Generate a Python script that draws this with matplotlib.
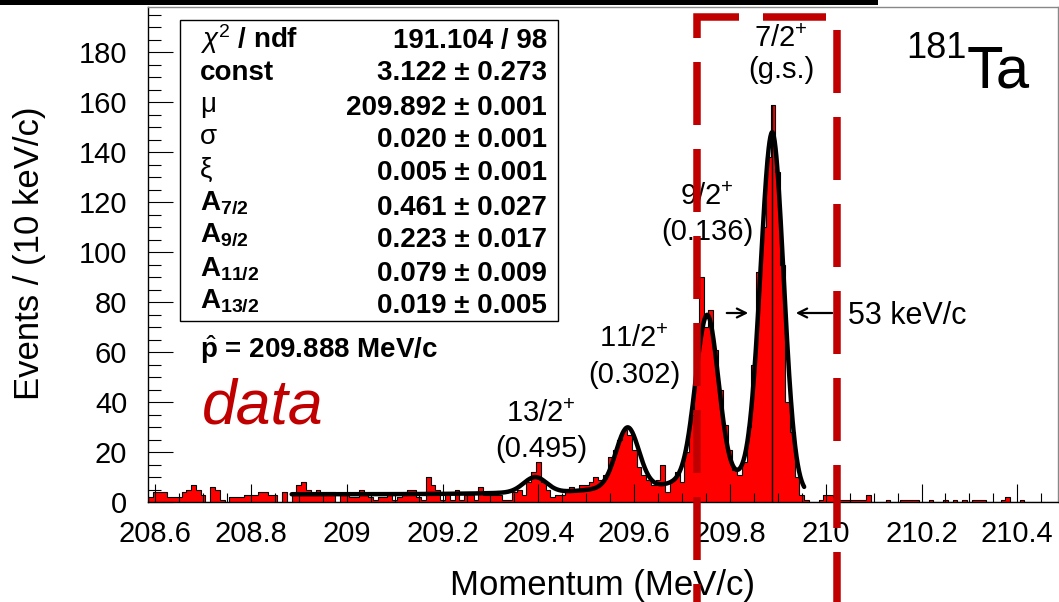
import numpy as np
import matplotlib
matplotlib.use("Agg")
import matplotlib.pyplot as plt
import matplotlib.transforms as mtransforms
from matplotlib.lines import Line2D
from matplotlib.patches import Rectangle
from matplotlib.ticker import MultipleLocator, FuncFormatter

plt.rcParams['font.family'] = ['Liberation Sans', 'DejaVu Sans']
plt.rcParams['mathtext.fontset'] = 'custom'
plt.rcParams['mathtext.rm'] = 'Liberation Sans'
plt.rcParams['mathtext.it'] = 'Liberation Sans:italic'
plt.rcParams['mathtext.bf'] = 'Liberation Sans:bold'
plt.rcParams['lines.scale_dashes'] = False

# histogram, 10 keV/c bins starting at 208.585 MeV/c
bin_lo = 208.585
bin_width = 0.01
counts = [
    2, 4, 4, 4, 2, 2, 2, 4, 5, 7,
    5, 3, 0, 6, 5, 1, 0, 2, 2, 2,
    3, 3, 3, 4, 4, 3, 3, 0, 4, 0,
    4, 7, 8, 5, 4, 5, 4, 4, 4, 0,
    3, 3, 2, 2, 5, 3, 2, 1, 2, 2,
    3, 1, 2, 3, 5, 5, 2, 1, 10, 7,
    5, 1, 3, 1, 5, 1, 3, 3, 1, 6,
    3, 3, 3, 3, 1, 1, 4, 5, 3, 8,
    12, 16, 8, 5, 2, 3, 3, 5, 6, 5,
    7, 7, 8, 10, 9, 11, 18, 21, 25, 29,
    27, 21, 14, 11, 9, 7, 9, 15, 4, 9,
    12, 8, 20, 35, 52, 90, 70, 77, 61, 45,
    31, 21, 13, 11, 16, 30, 55, 92, 110, 138,
    159, 132, 95, 40, 28, 10, 3, 1, 0, 0,
    1, 3, 3, 2, 1, 1, 1, 1, 1, 1,
    3, 0, 0, 0, 1, 0, 0, 1, 1, 1,
    1, 0, 0, 1, 0, 0, 1, 0, 1, 0,
    1, 0, 1, 1, 1, 0, 0, 0, 1, 2,
    0, 0, 1, 0, 0, 0, 0, 0, 0, 0,
]

# fit model (peak heights above background)
fit_const = 3.1
peak_pos = [209.888, 209.752, 209.586, 209.393]
peak_height = [145, 68.5, 25, 6.3]
peak_sigma = 0.024
tail_frac = 0.09
tail_len = 0.1
fit_range = (208.885, 209.955)
p_hat = 209.888

# labels of the states
spin_labels = ['$\\mathrm{7/2}^{+}$', '$\\mathrm{9/2}^{+}$',
               '$\\mathrm{11/2}^{+}$', '$\\mathrm{13/2}^{+}$']
energy_labels = ['(g.s.)', '(0.136)', '(0.302)', '(0.495)']

# fit result box
stat_names = ['$\\chi^2$ / ndf', 'const', '\u03bc', '\u03c3', '\u03be',
              '$\\mathbf{A}_{\\mathbf{7/2}}$', '$\\mathbf{A}_{\\mathbf{9/2}}$',
              '$\\mathbf{A}_{\\mathbf{11/2}}$', '$\\mathbf{A}_{\\mathbf{13/2}}$']
stat_values = ['191.104 / 98', '3.122 \u00b1 0.273', '209.892 \u00b1 0.001',
               '0.020 \u00b1 0.001', '0.005 \u00b1 0.001', '0.461 \u00b1 0.027',
               '0.223 \u00b1 0.017', '0.079 \u00b1 0.009', '0.019 \u00b1 0.005']

# selection window drawn as dashed box
window = (209.7305, 210.023)

W, H = 1059, 602
RED = '#c00000'


def fx(px):
    return px / W


def fy(py):
    return 1 - py / H


def peak_shape(x, mu):
    g = np.exp(-(x - mu) ** 2 / (2 * peak_sigma ** 2))
    tail = np.exp(np.minimum(x - mu, 0) / tail_len)
    return np.where(x < mu, (1 - tail_frac) * g + tail_frac * tail, g)


fig = plt.figure(figsize=(W / 100, H / 100), dpi=100)
ax = fig.add_axes([fx(148), fy(502), 910 / W, 495 / H])

edges = bin_lo + bin_width * np.arange(len(counts) + 1)
ax.stairs(counts, edges, fill=True, color='#ff0000', zorder=1)
ax.stairs(counts, edges, color='black', lw=0.8, zorder=1.2)
ax.vlines(p_hat, 0, max(counts), color='black', lw=1.0, zorder=1.3)

xf = np.linspace(fit_range[0], fit_range[1], 1200)
yf = fit_const + sum(h * peak_shape(xf, m) for m, h in zip(peak_pos, peak_height))
ax.plot(xf, yf, color='black', lw=3.2, zorder=3, solid_capstyle='round')

ax.set_xlim(edges[0], edges[-1])
ax.set_ylim(0, 198.2)
ax.xaxis.set_major_locator(MultipleLocator(0.2))
ax.xaxis.set_minor_locator(MultipleLocator(0.05))
ax.yaxis.set_major_locator(MultipleLocator(20))
ax.yaxis.set_minor_locator(MultipleLocator(5))
ax.xaxis.set_major_formatter(FuncFormatter(lambda v, p: f'{v:g}'))
ax.tick_params(axis='both', which='both', direction='in', top=False, right=False,
               width=0.8, labelsize=21)
ax.tick_params(axis='x', which='major', length=13, pad=13)
ax.tick_params(axis='x', which='minor', length=6.5)
ax.tick_params(axis='y', which='major', length=18, pad=15)
ax.tick_params(axis='y', which='minor', length=9.4)
for s in ['top', 'right']:
    ax.spines[s].set_color('#888888')
    ax.spines[s].set_linewidth(1.0)
for s in ['bottom', 'left']:
    ax.spines[s].set_linewidth(1.0)

ax.set_xlabel('Momentum (MeV/c)', fontsize=25, va='baseline')
ax.xaxis.set_label_coords(fx(603), fy(595), transform=fig.transFigure)
ax.set_ylabel('Events / (10 keV/c)', fontsize=25, va='center')
ax.yaxis.set_label_coords(fx(30), fy(253), transform=fig.transFigure)

# state labels
label_x = [781, 707, 634, 541]
spin_base = [47, 205, 347, 422]
energy_base = [78, 240, 383, 457]
for sx, sb, eb, s, e in zip(label_x, spin_base, energy_base, spin_labels, energy_labels):
    fig.text(fx(sx), fy(sb), s, fontsize=21, ha='center', va='baseline')
    fig.text(fx(sx), fy(eb), e, fontsize=21, ha='center', va='baseline')

# FWHM arrows
ax.annotate('', xy=(fx(751), fy(313)), xytext=(fx(724), fy(313)),
            xycoords='figure fraction', textcoords='figure fraction',
            arrowprops=dict(arrowstyle='->', lw=1.6, color='black', mutation_scale=16))
ax.annotate('', xy=(fx(793), fy(313)), xytext=(fx(835), fy(313)),
            xycoords='figure fraction', textcoords='figure fraction',
            arrowprops=dict(arrowstyle='->', lw=1.6, color='black', mutation_scale=16))
fig.text(fx(848), fy(324), '53 keV/c', fontsize=22, ha='left', va='baseline')

# nucleus label
fig.text(fx(967), fy(88), 'Ta', fontsize=43, ha='left', va='baseline')
fig.text(fx(967), fy(58), '181', fontsize=26, ha='right', va='baseline')

# fit box
fig.add_artist(Rectangle((fx(180), fy(321)), 378 / W, 301 / H, transform=fig.transFigure,
                         facecolor='white', edgecolor='black', lw=1.0, zorder=2))
value_base = [48, 80, 115, 147, 180, 215, 247, 281, 313]
name_shift = [0, 0, -3, -3, -3, -6, -6, -6, -6]
for name, val, b, d in zip(stat_names, stat_values, value_base, name_shift):
    weight = 'normal' if len(name) == 1 else 'bold'
    fig.text(fx(200), fy(b + d), name, fontsize=20, fontweight=weight, ha='left',
             va='baseline', zorder=4)
    fig.text(fx(547), fy(b), val, fontsize=20, fontweight='bold', ha='right',
             va='baseline', zorder=4)
fig.text(fx(200), fy(358), '$\\hat{\\mathbf{p}}$ = 209.888 MeV/c', fontsize=20,
         fontweight='bold', ha='left', va='baseline')

fig.text(fx(202), fy(424), 'data', fontsize=45, style='italic', color=RED,
         ha='left', va='baseline')

# dashed selection window, running past the axes
blend = mtransforms.blended_transform_factory(ax.transData, fig.transFigure)
on, off = 63 * 0.72, 24 * 0.72
fig.add_artist(Line2D([window[0], window[0], window[1], window[1]],
                      [fy(38), fy(17), fy(17), 0], transform=blend, color=RED,
                      lw=5.4, linestyle=(0, (on, off)), solid_capstyle='butt',
                      dash_capstyle='butt', dash_joinstyle='miter', zorder=10))
fig.add_artist(Line2D([window[0], window[0]], [fy(38), 0], transform=blend, color=RED,
                      lw=5.4, linestyle=(on, (on, off)), dash_capstyle='butt', zorder=10))

# black bar at the top edge of the slide
fig.add_artist(Rectangle((0, fy(5)), 878 / W, 5 / H, transform=fig.transFigure,
                         color='black', lw=0, zorder=10))

fig.savefig('out.png', dpi=100)
